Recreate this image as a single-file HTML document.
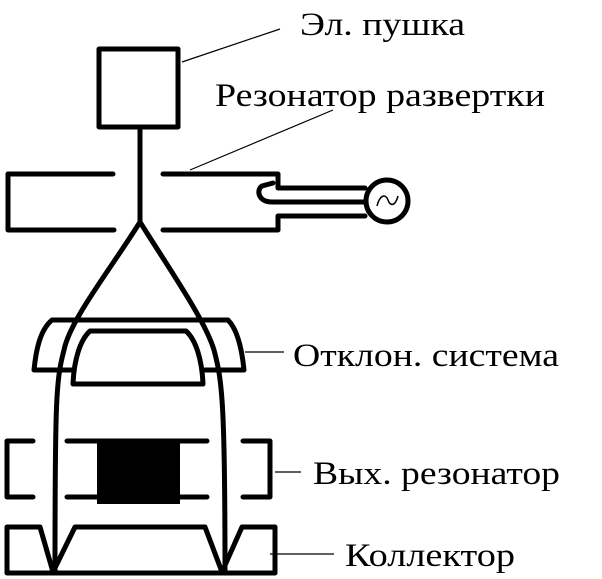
<!DOCTYPE html>
<html><head><meta charset="utf-8"><style>body{margin:0;background:#fff}svg{display:block}</style></head>
<body>
<svg width="602" height="579" viewBox="0 0 602 579" xmlns="http://www.w3.org/2000/svg">
<g fill="none" stroke="#000" stroke-width="5" stroke-linejoin="round" stroke-linecap="round">
<rect x="99" y="49" width="79" height="78"/>
<line x1="140" y1="127" x2="140" y2="222"/>
<path d="M113 174 H8 V230 H114"/>
<path d="M163 174 H278 V188 H365 M365 216 H278 V230 H163"/>
<path d="M365 202 H272 C258 202 256 190 262 186 L273 183"/>
<circle cx="387" cy="201" r="21"/>
<path d="M140 222 C110 270 70 320 64 350 C56 380 55 400 55 572"/>
<path d="M140 222 C170 270 205 320 214 350 C222 380 225 400 225 572"/>
<path d="M52 320 H228 C238 330 242 350 244 370 H205 M72 370 H34 C36 350 40 330 52 320"/>
<path d="M90 331 H186 C196 340 202 360 203 384 H73 C74 360 80 340 90 331 Z"/>
<path d="M33 441 H7 V497 H33 M243 441 H270 V497 H243"/>
<path d="M67 441 H207 M67 497 H207"/>
<path d="M7 527 H40 L53 572 L75 527 H205 L222 572 L242 527 H275 V573 H7 Z"/>
</g>
<rect x="97" y="440" width="83" height="64" fill="#000"/>
<path d="M377 206 C380 194 386 194 388 200 C390 206 395 207 398 196" fill="none" stroke="#000" stroke-width="1.5"/>
<g stroke="#000" stroke-width="1.2">
<line x1="182" y1="62" x2="280" y2="29"/>
<line x1="190" y1="170" x2="333" y2="110"/>
<line x1="245" y1="352" x2="284" y2="352"/>
<line x1="275" y1="472" x2="301" y2="472"/>
<line x1="270" y1="554" x2="334" y2="554"/>
</g>
<g font-family="Liberation Serif, DejaVu Serif, serif" font-size="33" fill="#000">
<text x="300" y="35" textLength="165" lengthAdjust="spacingAndGlyphs">Эл. пушка</text>
<text x="215" y="106" textLength="330" lengthAdjust="spacingAndGlyphs">Резонатор развертки</text>
<text x="293" y="366" textLength="266" lengthAdjust="spacingAndGlyphs">Отклон. система</text>
<text x="313" y="484" textLength="247" lengthAdjust="spacingAndGlyphs">Вых. резонатор</text>
<text x="345" y="566" textLength="170" lengthAdjust="spacingAndGlyphs">Коллектор</text>
</g>
</svg>
</body></html>
